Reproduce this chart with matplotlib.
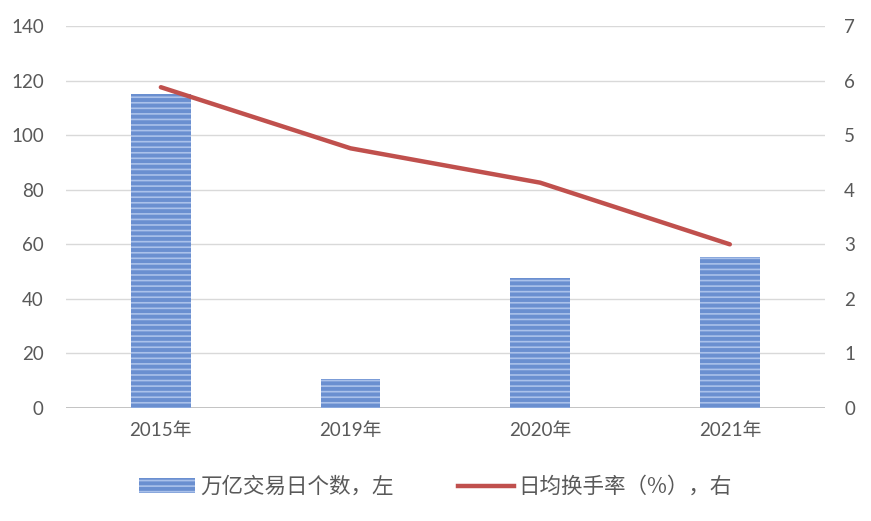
import matplotlib.pyplot as plt
import numpy as np
from matplotlib.lines import Line2D
from matplotlib.patches import Patch

plt.rcParams['font.family'] = ['Lato', 'Noto Sans CJK SC', 'DejaVu Sans']

years = ["2015年", "2019年", "2020年", "2021年"]
trade_days = [115, 10.5, 47.5, 55.5]
turnover = [5.88, 4.76, 4.13, 3.0]

bar_label = "万亿交易日个数，左"
line_label = "日均换手率（%），右"

fig = plt.figure(figsize=(8.71, 5.21), dpi=100)
ax = fig.add_axes([0.0758, 0.2169, 0.871, 0.733])
ax2 = ax.twinx()

x = np.arange(len(years))
plt.rcParams['hatch.linewidth'] = 1.2
ax.bar(x, trade_days, width=0.316, color="#6a8fd0", edgecolor="#aac1ea",
       hatch="---", linewidth=0.0, zorder=2)
ax2.plot(x, turnover, color="#c0504d", lw=3.2, solid_capstyle="round", zorder=3)

ax.set_xlim(-0.5, 3.5)
ax.set_ylim(0, 140)
ax.set_yticks(range(0, 141, 20))
ax2.set_ylim(0, 7)
ax2.set_yticks(range(0, 8))
ax.set_xticks(x)
ax.set_xticklabels(years)

ax.grid(axis="y", color="#d9d9d9", lw=1.0, zorder=0)
ax.set_axisbelow(True)
for a in (ax, ax2):
    for s in a.spines.values():
        s.set_visible(False)
    a.tick_params(length=0, labelsize=13.5, colors="#595959")
ax.tick_params(axis="y", pad=16)
ax2.tick_params(axis="y", pad=14)
ax.tick_params(axis="x", pad=10)
ax.axhline(0, color="#bfbfbf", lw=1.3, zorder=1)

handles = [Patch(facecolor="#6a8fd0", edgecolor="#aac1ea", hatch="---", linewidth=0),
           Line2D([0], [0], color="#c0504d", lw=3.2)]
fig.legend(handles, [bar_label, line_label], loc="center", bbox_to_anchor=(0.5, 0.065),
           ncol=2, frameon=False, fontsize=15.5, labelcolor="#595959",
           handlelength=2.6, handleheight=0.7, columnspacing=3.0, handletextpad=0.2,
           prop={'family': ['Noto Sans CJK SC', 'DejaVu Sans'], 'size': 15.5})

fig.savefig("out.png", dpi=100)
